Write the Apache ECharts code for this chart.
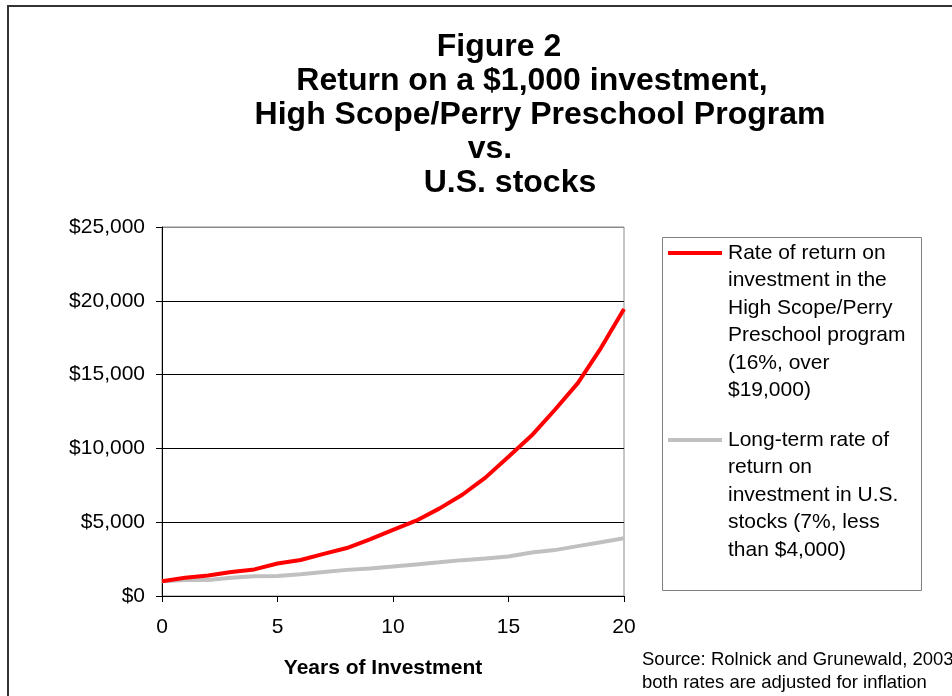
<!DOCTYPE html>
<html>
<head>
<meta charset="utf-8">
<script src="https://cdn.jsdelivr.net/npm/echarts@6/dist/echarts.min.js"></script>
<style>
html,body{margin:0;padding:0;background:#fff;}
#chart{width:952px;height:696px;}
</style>
</head>
<body>
<div id="chart"></div>
<script>
// ---- data ----
var years = [0,1,2,3,4,5,6,7,8,9,10,11,12,13,14,15,16,17,18,19,20];
var perryValues = [1000,1230,1390,1630,1800,2200,2440,2850,3250,3830,4480,5100,5920,6860,8020,9440,10870,12600,14420,16800,19450];
var stockValues = [1000,1080,1090,1230,1340,1360,1480,1630,1770,1870,2000,2140,2280,2430,2540,2680,2950,3110,3380,3640,3910];
var titleLines = ['Figure 2', 'Return on a $1,000 investment,', 'High Scope/Perry Preschool Program', 'vs.', 'U.S. stocks'];
var seriesNames = [
  'Rate of return on\ninvestment in the\nHigh Scope/Perry\nPreschool program\n(16%, over\n$19,000)',
  'Long-term rate of\nreturn on\ninvestment in U.S.\nstocks (7%, less\nthan $4,000)'
];
var xAxisName = 'Years of Investment';
var sourceText = 'Source: Rolnick and Grunewald, 2003\nboth rates are adjusted for inflation';

var FONT = '"Liberation Sans", Arial, sans-serif';

function pairs(xs, ys) { return xs.map(function (x, i) { return [x, ys[i]]; }); }
function money(v) { return '$' + v.toString().replace(/\B(?=(\d{3})+(?!\d))/g, ','); }

var titleCenters = [499, 532, 540, 490, 510];
var titleBaselines = [63, 97, 131, 165, 199];
var graphics = [
  { type: 'rect', shape: { x: 8, y: 6, width: 1200, height: 1200 }, style: { fill: 'none', stroke: '#333', lineWidth: 2 }, silent: true }
];
titleLines.forEach(function (t, i) {
  graphics.push({ type: 'text', x: titleCenters[i], y: titleBaselines[i],
    style: { text: t, font: 'bold 32px ' + FONT, fill: '#000', textAlign: 'center', textVerticalAlign: 'bottom' } });
});
// legend box
graphics.push({ type: 'rect', shape: { x: 662.5, y: 237.5, width: 259, height: 353 }, style: { fill: '#fff', stroke: '#808080', lineWidth: 1 } });
var legendColors = ['#ff0000', '#c0c0c0'];
var legendFirstY = [253, 440];
seriesNames.forEach(function (n, i) {
  graphics.push({ type: 'line', shape: { x1: 668, y1: legendFirstY[i], x2: 722, y2: legendFirstY[i] }, style: { stroke: legendColors[i], lineWidth: 4 } });
  graphics.push({ type: 'text', x: 728, y: legendFirstY[i] - 13.75,
    style: { text: n, font: '21px ' + FONT, fill: '#000', lineHeight: 27.5, textAlign: 'left', textVerticalAlign: 'top' } });
});
graphics.push({ type: 'text', x: 383, y: 668, style: { text: xAxisName, font: 'bold 21px ' + FONT, fill: '#000', textAlign: 'center', textVerticalAlign: 'middle' } });
graphics.push({ type: 'text', x: 642, y: 648.5, style: { text: sourceText, font: '18.5px ' + FONT, fill: '#000', lineHeight: 23, textAlign: 'left', textVerticalAlign: 'top' } });

var chart = echarts.init(document.getElementById('chart'), null, { renderer: 'canvas' });
chart.setOption({
  animation: false,
  backgroundColor: '#fff',
  grid: { left: 162, right: 328, top: 227, bottom: 100, show: true, borderColor: '#8a8a8a', borderWidth: 1, backgroundColor: 'transparent' },
  legend: { show: false },
  xAxis: {
    type: 'value', min: 0, max: 20, interval: 5,
    axisLine: { show: true, onZero: false, lineStyle: { color: '#000', width: 1 } },
    axisTick: { show: true, inside: false, length: 6, lineStyle: { color: '#000' } },
    axisLabel: { margin: 21, color: '#000', fontSize: 21, fontFamily: FONT },
    splitLine: { show: false }
  },
  yAxis: {
    type: 'value', min: 0, max: 25000, interval: 5000,
    axisLine: { show: true, lineStyle: { color: '#000', width: 1 } },
    axisTick: { show: true, inside: false, length: 6, lineStyle: { color: '#000' } },
    axisLabel: { margin: 17, color: '#000', fontSize: 21, fontFamily: FONT, formatter: money },
    splitLine: { show: true, lineStyle: { color: ['#000', '#000', '#000', '#000', '#000', '#8a8a8a'], width: 1 } }
  },
  series: [
    { name: seriesNames[0], type: 'line', data: pairs(years, perryValues), symbol: 'none', z: 3,
      lineStyle: { color: '#ff0000', width: 4 }, itemStyle: { color: '#ff0000' } },
    { name: seriesNames[1], type: 'line', data: pairs(years, stockValues), symbol: 'none', z: 2,
      lineStyle: { color: '#c0c0c0', width: 4 }, itemStyle: { color: '#c0c0c0' } }
  ],
  graphic: graphics
});
</script>
</body>
</html>
